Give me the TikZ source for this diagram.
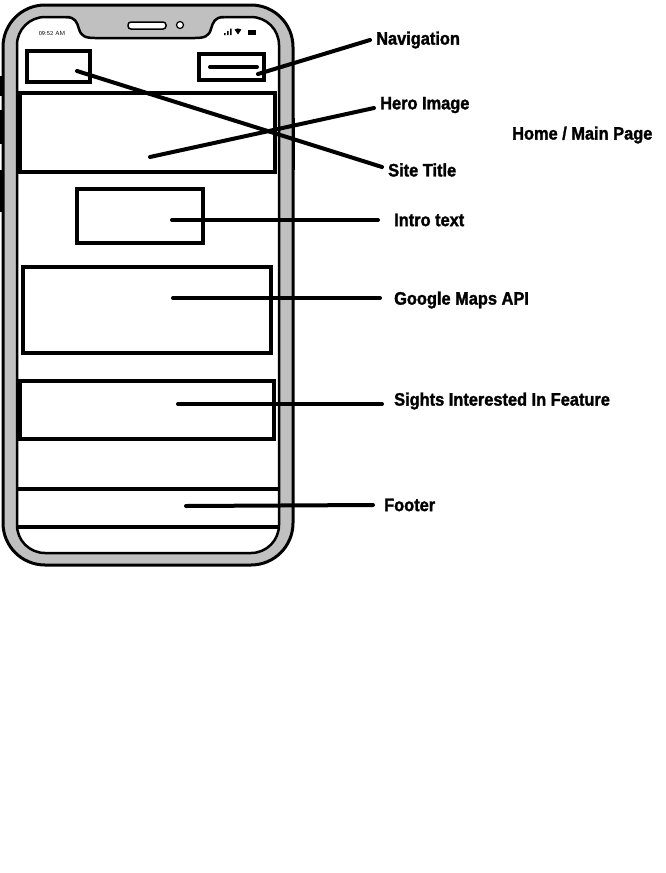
\documentclass[tikz,border=0pt]{standalone}
\usepackage{fontspec}
\usepackage{xcolor}
\newfontfamily\notefont{Liberation Sans}[FakeStretch=0.91, BoldFeatures={FakeBold=1.6}]
\definecolor{bezel}{RGB}{192,192,192}

\begin{document}
\begin{tikzpicture}[x=1pt, y=-1pt,
    note/.style={anchor=west, inner sep=2pt, font=\notefont\bfseries\fontsize{18}{20}\selectfont},
    lead/.style={line width=4pt, line cap=round},
    block/.style={line width=4pt}]
      \useasboundingbox[fill=white] (0,0) rectangle (666,873);
      % phone body
      \draw[line width=3pt, fill=bezel, rounded corners=42pt] (3,5) rectangle (293,565);
      \fill[black] (0,76) rectangle (2.5,96);
      \fill[black] (0,110) rectangle (2.5,144);
      \fill[black] (0,170) rectangle (2.5,212);
      \fill[black] (292,118) rectangle (294.5,170);
      \draw[line width=2.5pt, fill=white, rounded corners=28pt] (17,17) rectangle (279,553);
      % notch
      \fill[bezel] (66,17) .. controls (75,17) and (77,22) .. (79,29) .. controls (81,36) and (85,38) .. (95,38)
        -- (195,38) .. controls (205,38) and (209,36) .. (211,29) .. controls (213,22) and (215,17) .. (224,17)
        -- (224,14) -- (66,14) -- cycle;
      \draw[line width=2.5pt] (66,17) .. controls (75,17) and (77,22) .. (79,29) .. controls (81,36) and (85,38) .. (95,38)
        -- (195,38) .. controls (205,38) and (209,36) .. (211,29) .. controls (213,22) and (215,17) .. (224,17);
      \draw[line width=1.5pt, fill=white, rounded corners=3pt] (128,22) rectangle (166,29);
      \draw[line width=1.2pt, fill=white] (180,25) circle (3.5);
      % status bar
      \node[inner sep=0pt, font=\sffamily\fontsize{6}{6}\selectfont] (clock) at (52,33) {09:52 AM};
      \fill (224,33) rectangle (225.5,35) (227,31) rectangle (228.5,35) (230,28.5) rectangle (231.5,35);
      \fill (238,34.5) -- (234.5,29.5) arc[start angle=-125, end angle=-55, radius=6] -- cycle;
      \fill (248,29.5) rectangle (256,35);
      % screen blocks
      \draw[line width=3.5pt] (27,51) rectangle (90,82);
      \draw[line width=3.5pt] (199,54) rectangle (264,80);
      \draw[lead] (210,67) -- (257,67);
      \draw[block] (20,93) rectangle (275,172);
      \draw[block] (77,189) rectangle (203,243);
      \draw[block] (23,267) rectangle (271,353);
      \draw[block] (20,381) rectangle (274,439);
      \draw[block] (18,489) -- (278,489);
      \draw[block] (18,527) -- (278,527);
      % labels
      \node[note] (nav) at (374,40) {Navigation};
      \node[note] (hero) at (378,105) {Hero Image};
      \node[note] (page) at (510,135) {Home / Main Page};
      \node[note] (title) at (386,170) {Site Title};
      \node[note] (intro) at (392,220) {Intro text};
      \node[note] (maps) at (392,300) {Google Maps API};
      \node[note] (sights) at (392,401) {Sights Interested In Feature};
      \node[note] (footer) at (382,505) {Footer};
      % leader lines
      \coordinate (navpt) at (258,74);
      \coordinate (titlept) at (77,71);
      \coordinate (heropt) at (150,157);
      \coordinate (intropt) at (172,220);
      \coordinate (mapspt) at (173,298);
      \coordinate (sightspt) at (178,404);
      \coordinate (footerpt) at (186,506);
      \draw[lead] (navpt) -- ([xshift=-4pt]nav.west);
      \draw[lead] (titlept) -- ([xshift=-4pt,yshift=3pt]title.west);
      \draw[lead] (heropt) -- ([xshift=-4pt,yshift=-3pt]hero.west);
      \draw[lead] (intropt) -- ([xshift=-14pt]intro.west);
      \draw[lead] (mapspt) -- ([xshift=-12pt,yshift=2pt]maps.west);
      \draw[lead] (sightspt) -- ([xshift=-10pt,yshift=-3pt]sights.west);
      \draw[lead] (footerpt) -- ([xshift=-9pt]footer.west);
\end{tikzpicture}
\end{document}
